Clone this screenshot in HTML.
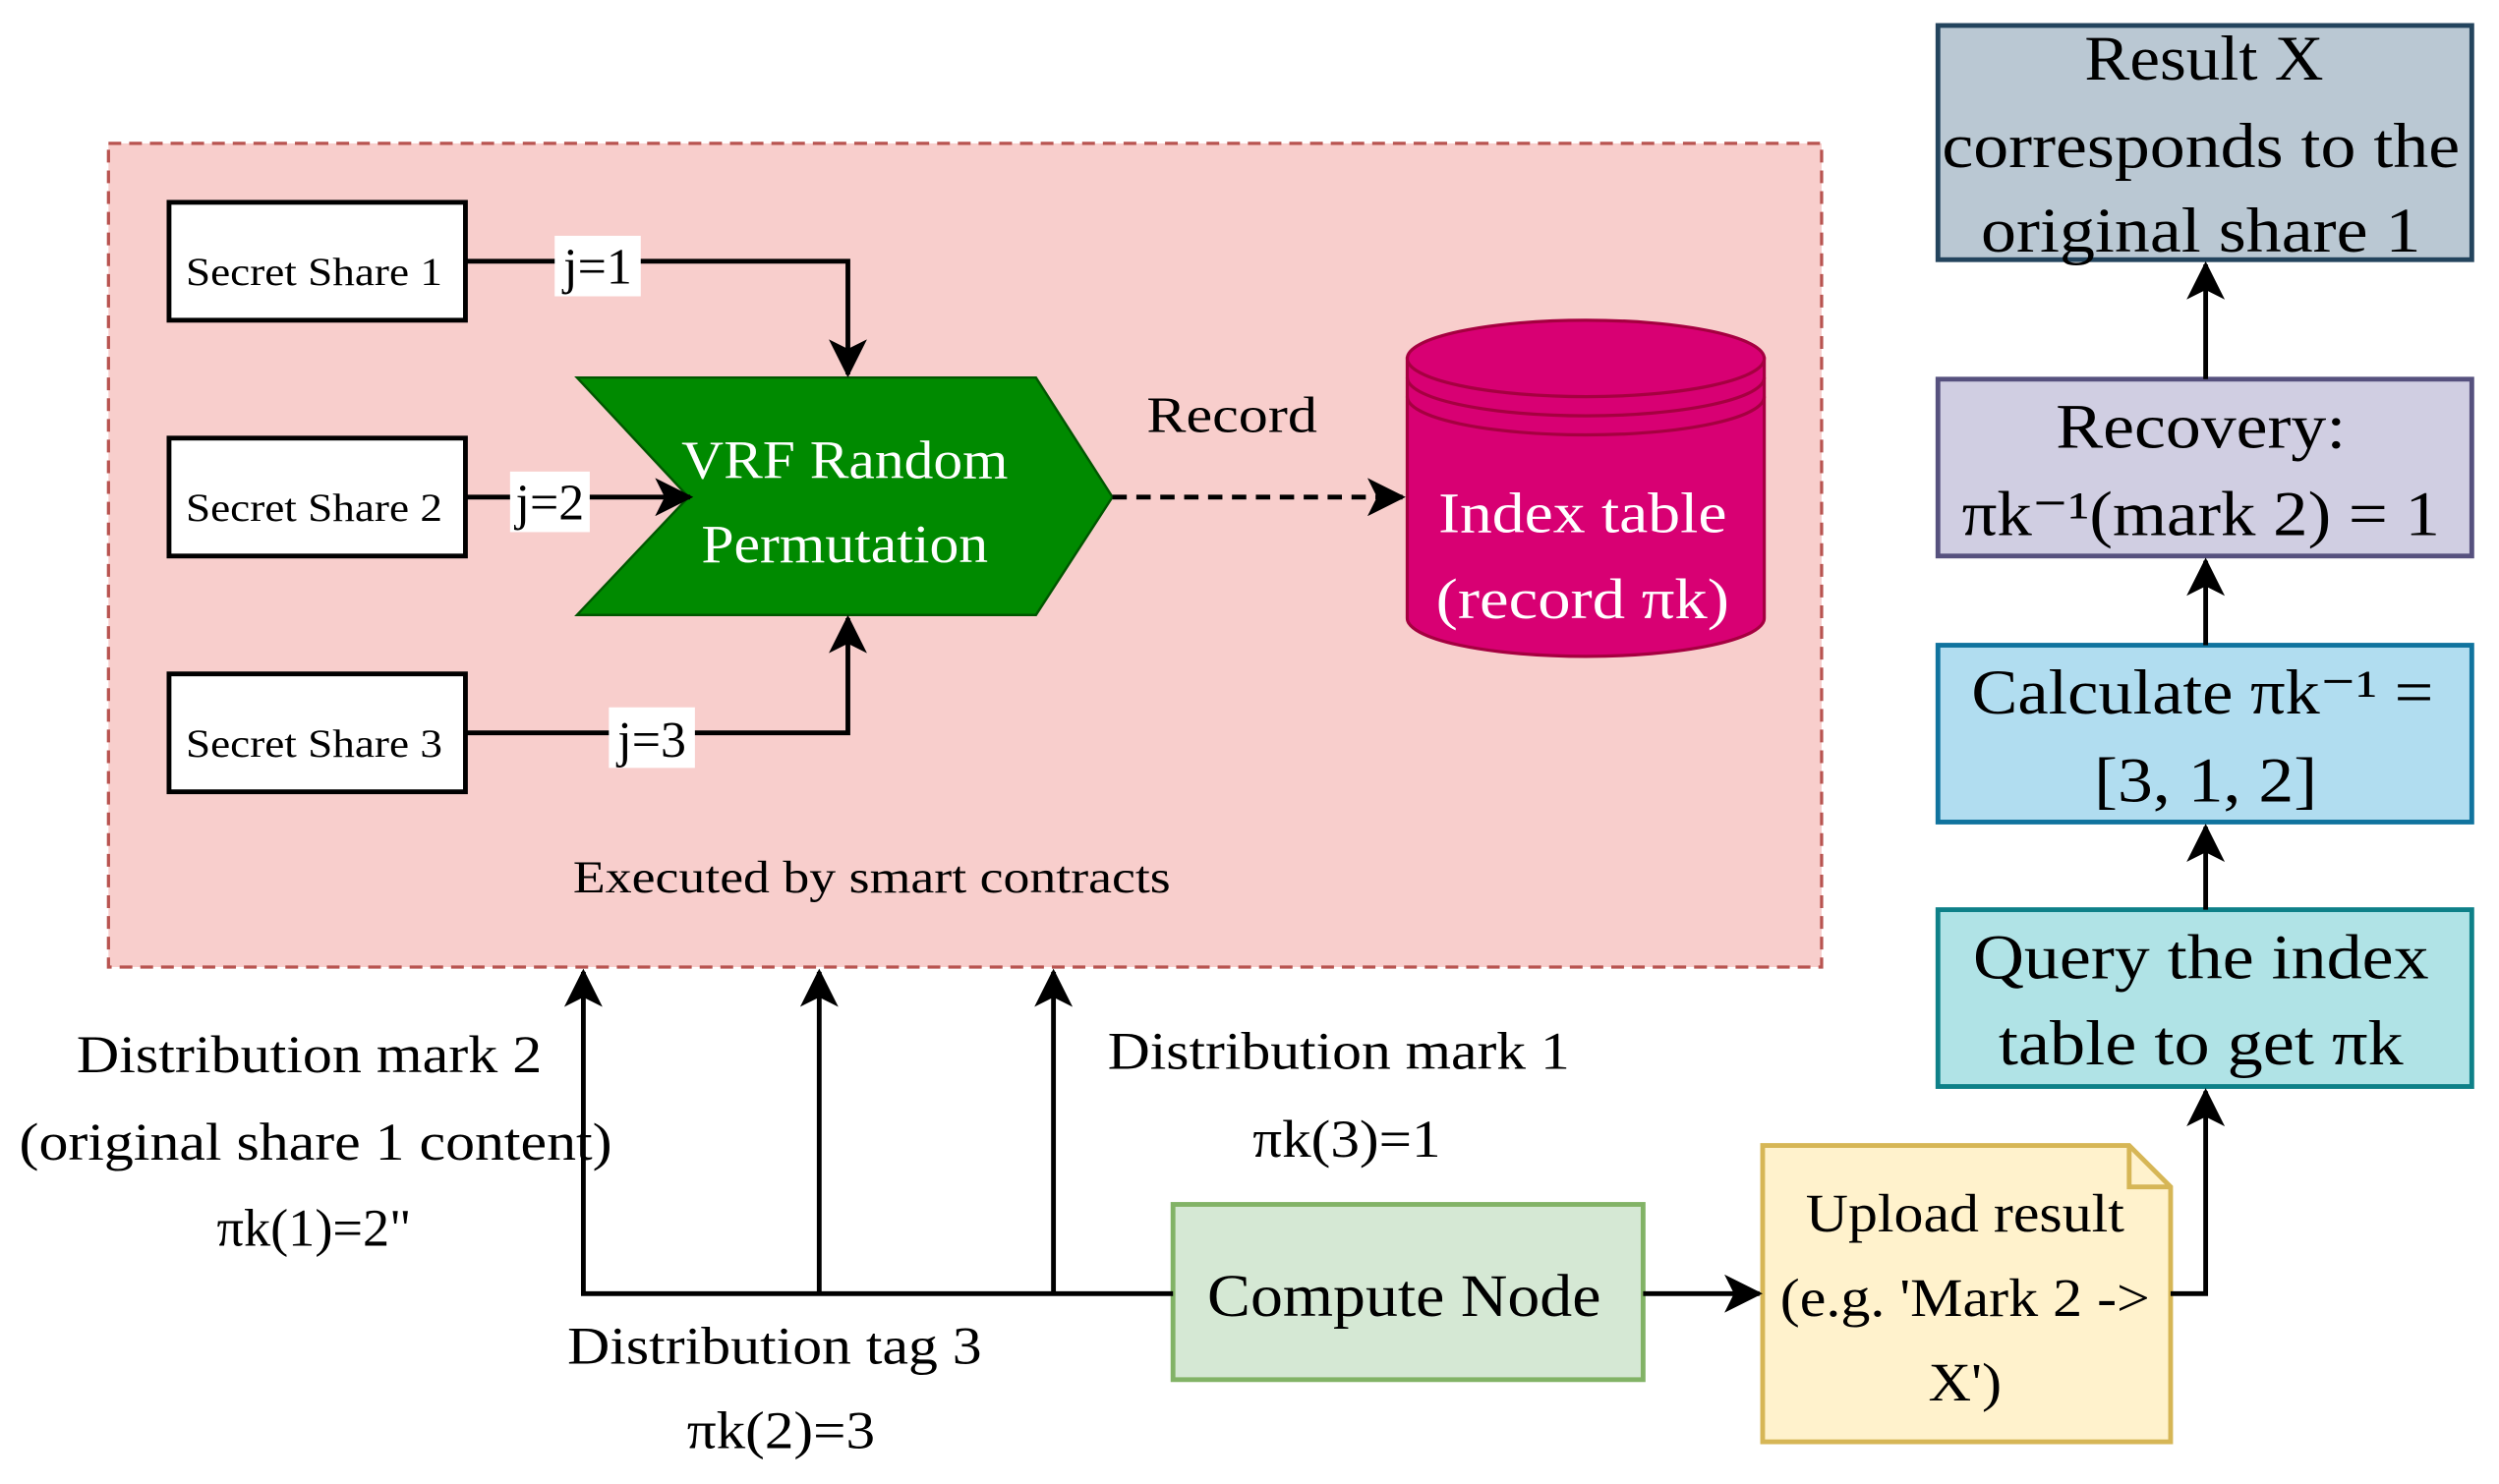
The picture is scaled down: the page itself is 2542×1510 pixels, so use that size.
<!DOCTYPE html>
<html><head><meta charset="utf-8"><style>html,body{margin:0;padding:0;background:#fff}svg{display:block}</style></head>
<body>
<svg width="2542" height="1510" viewBox="0 0 1568 931.5" xmlns="http://www.w3.org/2000/svg" font-family="'Liberation Serif', serif">
<defs>
<marker id="b" markerWidth="24" markerHeight="24" refX="22" refY="12" orient="auto" markerUnits="userSpaceOnUse"><path d="M0,0 L24,12 L0,24 L6,12 Z" fill="#000"/></marker>
</defs>
<rect x="0" y="0" width="1568" height="931.5" fill="#fff"/>
<rect x="68" y="90" width="1075" height="517" fill="#f8cecc" stroke="#b85450" stroke-width="2" stroke-dasharray="8,5"/>
<g fill="#fff" stroke="#000" stroke-width="3">
<rect x="106" y="127" width="186" height="74"/>
<rect x="106" y="275" width="186" height="74"/>
<rect x="106" y="423" width="186" height="74"/>
</g>
<g font-size="25" text-anchor="middle" lengthAdjust="spacingAndGlyphs">
<text x="197" y="179" textLength="161" lengthAdjust="spacingAndGlyphs">Secret Share 1</text>
<text x="197" y="327" textLength="161" lengthAdjust="spacingAndGlyphs">Secret Share 2</text>
<text x="197" y="475" textLength="161" lengthAdjust="spacingAndGlyphs">Secret Share 3</text>
</g>
<polygon points="362,237 650,237 698,312 650,386 362,386 432,312" fill="#008a00" stroke="#005700" stroke-width="1.5"/>
<g font-size="34" fill="#fff" text-anchor="middle">
<text x="530" y="300" textLength="205" lengthAdjust="spacingAndGlyphs">VRF Random</text>
<text x="530" y="353" textLength="180" lengthAdjust="spacingAndGlyphs">Permutation</text>
</g>
<g stroke="#000" stroke-width="3" fill="none">
<polyline points="292,164 532,164 532,235" marker-end="url(#b)"/>
<polyline points="292,312 433,312" marker-end="url(#b)"/>
<polyline points="292,460 532,460 532,388" marker-end="url(#b)"/>
<line x1="698" y1="312" x2="880" y2="312" stroke-dasharray="9,6" marker-end="url(#b)"/>
</g>
<g font-size="32" text-anchor="middle">
<rect x="348" y="148" width="54" height="38" fill="#fff"/><text x="375" y="178">j=1</text>
<rect x="320" y="296" width="50" height="38" fill="#fff"/><text x="345" y="326">j=2</text>
<rect x="382" y="444" width="54" height="38" fill="#fff"/><text x="409" y="475">j=3</text>
<text x="773" y="271" textLength="107" lengthAdjust="spacingAndGlyphs">Record</text>
</g>
<g stroke="#a50040" stroke-width="2" fill="#d80073">
<path d="M883,225 L883,388 A112,24 0 0 0 1107,388 L1107,225 Z"/>
<ellipse cx="995" cy="225" rx="112" ry="24"/>
<path d="M883,237 A112,24 0 0 0 1107,237" fill="none"/>
<path d="M883,249 A112,24 0 0 0 1107,249" fill="none"/>
</g>
<g font-size="36" fill="#fff" text-anchor="middle">
<text x="993" y="334" textLength="181" lengthAdjust="spacingAndGlyphs">Index table</text>
<text x="993" y="388" textLength="184" lengthAdjust="spacingAndGlyphs">(record πk)</text>
</g>
<text x="547" y="560" font-size="29" text-anchor="middle" textLength="375" lengthAdjust="spacingAndGlyphs">Executed by smart contracts</text>
<rect x="1216" y="16" width="335" height="147" fill="#bac8d3" stroke="#23445d" stroke-width="3"/>
<rect x="1216" y="238" width="335" height="111" fill="#d0cee2" stroke="#56517e" stroke-width="3"/>
<rect x="1216" y="405" width="335" height="111" fill="#b1ddf0" stroke="#10739e" stroke-width="3"/>
<rect x="1216" y="571" width="335" height="111" fill="#b0e3e6" stroke="#0e8088" stroke-width="3"/>
<g font-size="40" text-anchor="middle">
<text x="1383" y="50" textLength="150" lengthAdjust="spacingAndGlyphs">Result X</text>
<text x="1381" y="105" textLength="325" lengthAdjust="spacingAndGlyphs">corresponds to the</text>
<text x="1381" y="158" textLength="276" lengthAdjust="spacingAndGlyphs">original share 1</text>
<text x="1381" y="281" textLength="182" lengthAdjust="spacingAndGlyphs">Recovery:</text>
<text x="1381" y="336" textLength="300" lengthAdjust="spacingAndGlyphs">πk⁻¹(mark 2) = 1</text>
<text x="1382" y="448" textLength="290" lengthAdjust="spacingAndGlyphs">Calculate πk⁻¹ =</text>
<text x="1384" y="503" textLength="140" lengthAdjust="spacingAndGlyphs">[3, 1, 2]</text>
<text x="1381" y="614" textLength="286" lengthAdjust="spacingAndGlyphs">Query the index</text>
<text x="1381" y="668" textLength="254" lengthAdjust="spacingAndGlyphs">table to get πk</text>
</g>
<rect x="736" y="756" width="295" height="110" fill="#d5e8d4" stroke="#82b366" stroke-width="3"/>
<text x="881" y="826" font-size="38" text-anchor="middle" textLength="247" lengthAdjust="spacingAndGlyphs">Compute Node</text>
<path d="M1106,719 L1336,719 L1362,745 L1362,905 L1106,905 Z" fill="#fff2cc" stroke="#d6b656" stroke-width="3"/>
<path d="M1336,719 L1336,745 L1362,745" fill="none" stroke="#d6b656" stroke-width="3"/>
<g font-size="34" text-anchor="middle">
<text x="1233" y="773" textLength="200" lengthAdjust="spacingAndGlyphs">Upload result</text>
<text x="1233" y="826" textLength="232" lengthAdjust="spacingAndGlyphs">(e.g. 'Mark 2 -&gt;</text>
<text x="1233" y="879" textLength="46" lengthAdjust="spacingAndGlyphs">X')</text>
</g>
<g stroke="#000" stroke-width="3" fill="none">
<line x1="1384" y1="238" x2="1384" y2="166" marker-end="url(#b)"/>
<line x1="1384" y1="405" x2="1384" y2="352" marker-end="url(#b)"/>
<line x1="1384" y1="571" x2="1384" y2="519" marker-end="url(#b)"/>
<polyline points="1362,812 1384,812 1384,685" marker-end="url(#b)"/>
<line x1="1031" y1="812" x2="1104" y2="812" marker-end="url(#b)"/>
<polyline points="736,812 366,812 366,610" marker-end="url(#b)"/>
<line x1="514" y1="812" x2="514" y2="610" marker-end="url(#b)"/>
<line x1="661" y1="812" x2="661" y2="610" marker-end="url(#b)"/>
</g>
<g font-size="33" text-anchor="middle">
<text x="194" y="673" textLength="292" lengthAdjust="spacingAndGlyphs">Distribution mark 2</text>
<text x="198" y="728" textLength="372" lengthAdjust="spacingAndGlyphs">(original share 1 content)</text>
<text x="197" y="782" textLength="122" lengthAdjust="spacingAndGlyphs">πk(1)=2"</text>
<text x="840" y="671" textLength="290" lengthAdjust="spacingAndGlyphs">Distribution mark 1</text>
<text x="845" y="726" textLength="118" lengthAdjust="spacingAndGlyphs">πk(3)=1</text>
<text x="486" y="856" textLength="260" lengthAdjust="spacingAndGlyphs">Distribution tag 3</text>
<text x="490" y="909" textLength="118" lengthAdjust="spacingAndGlyphs">πk(2)=3</text>
</g>
</svg>
</body></html>
